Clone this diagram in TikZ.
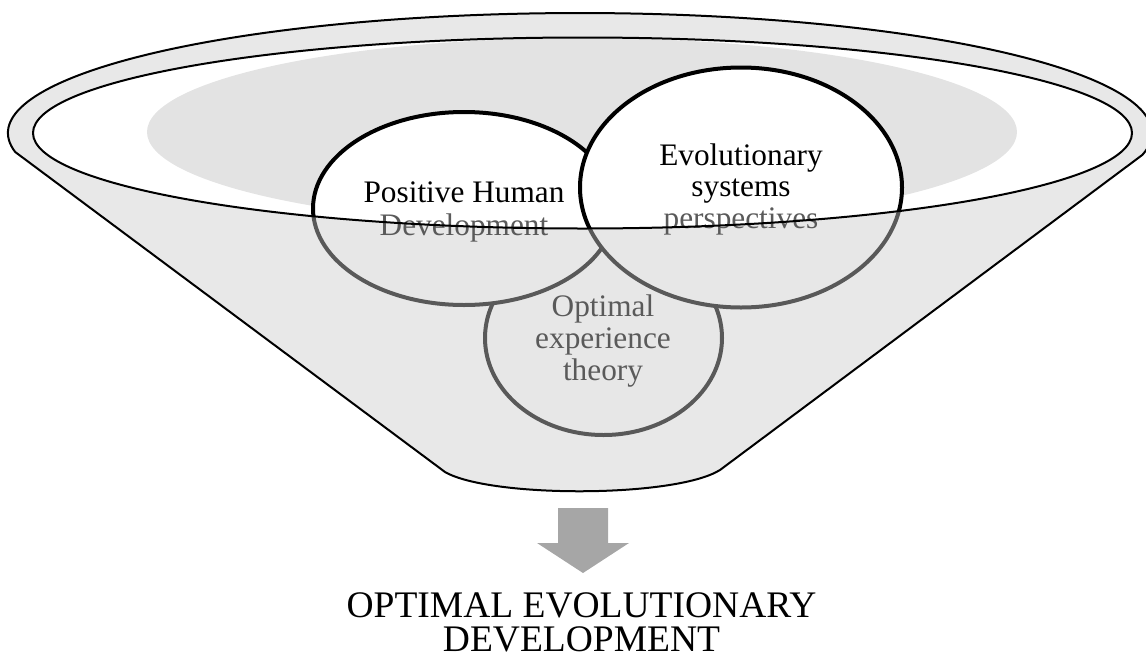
\documentclass[tikz,border=0pt]{standalone}
\usepackage{fontspec}
\setmainfont{Liberation Serif}
\usetikzlibrary{shapes.geometric}
\definecolor{veilgray}{RGB}{203,203,203}
\definecolor{bowlgray}{RGB}{227,227,227}
\definecolor{arrowgray}{RGB}{166,166,166}
\definecolor{fadedtext}{RGB}{90,90,90}
\begin{document}
\begin{tikzpicture}[x=1pt,y=-1pt,
  lens/.style={ellipse, draw=black, line width=4pt, fill=white, inner sep=0pt},
  lenstext/.style={anchor=base, inner sep=0pt, font=\fontsize{31.3}{36}\selectfont},
  fadedlens/.style={lenstext, text=fadedtext},
  outcome/.style={anchor=base, inner sep=0pt, font=\fontsize{37.5}{42}\selectfont},
  rim/.style={line width=2pt, line join=round}]
\useasboundingbox (0,0) rectangle (1146,659);

% shaded bowl inside the funnel mouth
\fill[bowlgray] (582,132) ellipse [x radius=435, y radius=94];

% the three overlapping ellipses
\node[lens, minimum width=237pt, minimum height=194pt] (oet) at (603.5,338) {};
\node[lens, minimum width=302pt, minimum height=193pt] (phd) at (464,208.5) {};
\node[lens, minimum width=322pt, minimum height=240pt] (esp) at (741,187.5) {};

% translucent front wall of the funnel (everything outside the mouth)
\fill[veilgray, fill opacity=0.443, even odd rule]
  (15.2,152) arc[start angle=170.9, end angle=370.5, x radius=572, y radius=120]
  -- (720,470) .. controls (675,498) and (490,498) .. (445,472) -- cycle
  (582.5,133) ellipse [x radius=549.5, y radius=95.5];

% labels
\node[lenstext] (phd1) at (464,202.7) {Positive Human};
\node[fadedlens] (phd2) at (464,235) {Development};
\node[lenstext] (esp1) at (741,165) {Evolutionary};
\node[lenstext] (esp2) at (741,196.7) {systems};
\node[fadedlens] (esp3) at (741,228.8) {perspectives};
\node[fadedlens] (oet1) at (603,316.7) {Optimal};
\node[fadedlens] (oet2) at (603,348.5) {experience};
\node[fadedlens] (oet3) at (603,380) {theory};

% funnel outline and mouth
\draw[rim]
  (15.2,152) arc[start angle=170.9, end angle=370.5, x radius=572, y radius=120]
  -- (720,470) .. controls (675,498) and (490,498) .. (445,472) -- cycle;
\draw[rim] (582.5,133) ellipse [x radius=549.5, y radius=95.5];

% downward arrow
\fill[arrowgray] (558,508) -- (608,508) -- (608,543) -- (629,543)
  -- (583,573) -- (537,543) -- (558,543) -- cycle;

% result
\node[outcome] (oed1) at (581.5,617.5) {OPTIMAL EVOLUTIONARY};
\node[outcome] (oed2) at (581.5,651.5) {DEVELOPMENT};
\end{tikzpicture}
\end{document}
